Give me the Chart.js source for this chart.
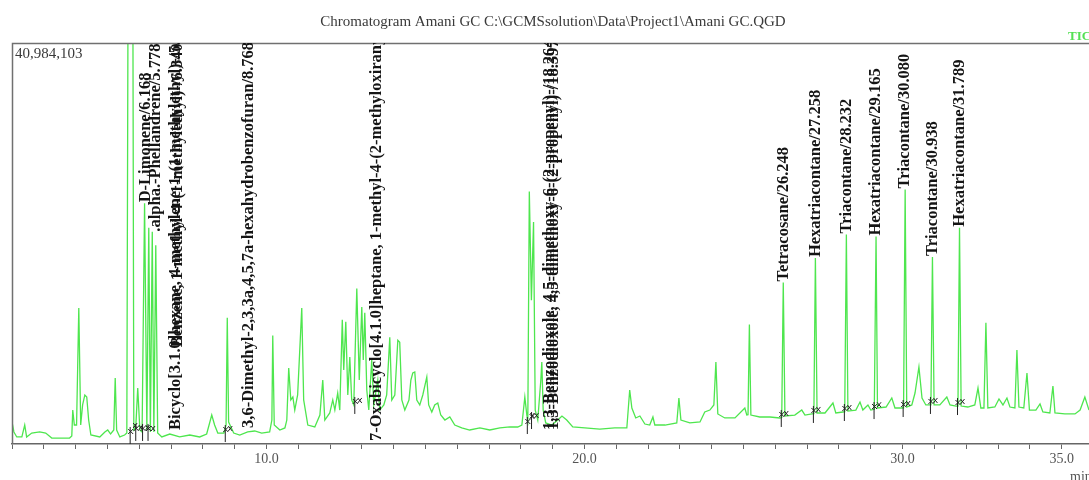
<!DOCTYPE html>
<html>
<head>
<meta charset="utf-8">
<script src="https://cdn.jsdelivr.net/npm/chart.js@4.4.1/dist/chart.umd.min.js"></script>
<style>
html,body{margin:0;padding:0;background:#fff;}
#wrap{position:relative;width:1089px;height:480px;}
</style>
</head>
<body>
<div id="wrap"><canvas id="c"></canvas></div>
<script>
// Retention time (min)
const times = [
2.00,2.06,2.15,2.31,2.40,2.46,2.62,2.87,3.06,3.25,3.81,3.88,3.91,3.96,4.03,4.10,4.16,4.22,4.29,4.35,4.41,4.48,4.76,4.92,5.01,5.10,5.20,5.245,5.29,5.39,
5.54,5.61,5.66,5.79,5.83,5.89,5.953,6.02,6.09,6.168,6.24,6.30,6.35,6.41,6.46,6.52,6.58,6.71,6.96,7.27,7.59,7.90,8.12,8.28,8.37,8.47,8.66,8.73,8.768,8.81,
8.97,9.16,9.41,9.63,9.85,10.10,10.17,10.198,10.245,10.42,10.58,10.64,10.70,10.765,10.83,10.89,10.98,11.11,11.17,11.30,11.52,11.68,11.77,11.835,11.99,12.085,12.15,12.24,12.305,12.384,
12.43,12.494,12.557,12.62,12.68,12.745,12.84,12.918,12.997,13.044,13.091,13.154,13.217,13.31,13.374,13.50,13.56,13.69,13.78,13.877,13.94,14.035,14.13,14.19,14.255,14.35,14.48,14.54,14.60,14.663,
14.726,14.82,14.915,15.041,15.10,15.198,15.29,15.386,15.48,15.61,15.764,15.92,16.14,16.39,16.71,17.02,17.34,17.65,17.90,18.03,18.123,18.186,18.217,18.264,18.33,18.397,18.45,18.53,18.626,18.657,
18.70,18.78,18.97,19.16,19.29,19.44,19.63,20.01,20.48,20.95,21.33,21.42,21.488,21.61,21.74,21.897,22.05,22.15,22.21,22.53,22.90,22.967,23.03,23.31,23.63,23.78,23.94,24.066,24.13,24.19,
24.41,24.73,25.04,25.10,25.14,25.183,25.23,25.51,25.83,26.14,26.20,26.248,26.30,26.61,26.83,26.93,27.15,27.21,27.258,27.31,27.56,27.81,27.90,28.12,28.18,28.232,28.28,28.53,28.66,28.75,
28.91,29.00,29.11,29.165,29.21,29.48,29.66,29.76,29.95,30.03,30.080,30.13,30.29,30.39,30.513,30.61,30.73,30.83,30.89,30.938,30.99,31.17,31.39,31.49,31.68,31.74,31.789,31.84,32.05,32.27,
32.37,32.46,32.557,32.619,32.68,32.90,33.03,33.155,33.28,33.374,33.53,33.594,33.657,33.81,33.91,33.987,34.19,34.32,34.41,34.63,34.726,34.79,35.10,35.42,35.58,35.73,35.86
];
// TIC intensity (millions of counts)
const signal = [
2.25,1.23,0.72,0.72,1.94,0.72,1.12,1.23,1.12,0.61,0.61,0.82,3.47,1.94,1.94,13.9,1.94,3.99,5.01,4.80,2.45,0.92,0.72,1.23,1.43,1.02,1.43,6.75,1.43,0.72,
0.92,1.12,60.0,60.0,1.43,1.64,5.72,1.43,1.23,24.6,1.43,22.1,1.23,21.7,1.23,20.3,1.12,0.72,1.02,0.72,0.92,0.72,1.02,2.96,1.94,1.12,1.12,1.94,12.9,2.25,
1.12,0.92,1.23,1.33,1.12,1.23,2.45,11.1,1.94,1.43,1.64,2.45,7.77,4.50,4.80,3.47,5.01,13.9,4.50,1.94,1.74,2.96,6.54,2.45,3.17,4.50,3.47,5.21,3.47,12.7,
7.56,12.5,5.01,8.89,4.50,3.99,15.9,6.54,14.0,8.58,13.4,5.52,3.47,8.58,3.99,6.54,3.47,3.99,5.01,10.9,4.50,5.01,10.6,10.4,4.50,3.47,4.50,6.54,7.26,7.36,
4.50,3.99,5.01,6.85,3.99,3.27,3.99,4.19,2.96,2.45,2.76,1.94,1.64,1.43,1.64,1.43,1.64,1.74,1.74,1.94,4.80,2.96,2.45,25.8,14.7,22.7,3.47,2.45,6.54,8.38,
3.47,2.15,1.94,2.45,2.86,2.45,1.74,1.64,1.53,1.64,1.64,5.52,3.68,2.66,2.86,2.04,1.94,2.76,1.94,1.94,2.15,4.70,2.45,2.15,2.25,3.27,3.47,3.99,8.38,3.07,
2.66,2.66,3.68,2.96,3.00,12.2,2.96,2.76,2.76,2.66,2.70,16.5,2.86,2.96,3.47,2.96,3.07,3.10,19.0,3.17,3.17,4.19,3.17,3.27,3.30,21.4,3.37,3.47,4.29,3.47,
3.99,3.47,3.55,21.2,3.68,3.78,4.70,3.68,3.68,3.70,26.0,3.78,3.99,5.21,7.87,4.70,3.99,3.99,3.99,19.1,3.99,3.99,4.80,3.99,3.88,3.88,22.1,3.88,3.78,3.99,
5.72,3.68,3.68,12.4,3.68,3.78,4.60,3.99,4.70,3.78,3.68,9.61,3.78,3.68,7.26,3.47,3.47,4.09,3.27,3.17,5.93,3.17,3.07,3.07,3.47,4.80,3.47
];
const tickValues = [10, 20, 30, 35];
const tickLabels = ['10.0', '20.0', '30.0', '35.0'];
const peakNames = [
"Bicyclo[3.1.0]hexane, 4-methylene-1-(1-methylethyl)-/5.953",
"Benzene, 1-methyl-4-(1-methylethyl)-/6.340",
".alpha.-Phellandrene/5.778",
"D-Limonene/6.168",
"3,6-Dimethyl-2,3,3a,4,5,7a-hexahydrobenzofuran/8.768",
"7-Oxabicyclo[4.1.0]heptane, 1-methyl-4-(2-methyloxiranyl)-/12.840",
"1,3-Benzodioxole, 4,5-dimethoxy-6-(2-propenyl)-/18.264",
"1,3-Benzodioxole, 4,5-dimethoxy-6-(2-propenyl)-/18.397",
"Tetracosane/26.248",
"Hexatriacontane/27.258",
"Triacontane/28.232",
"Hexatriacontane/29.165",
"Triacontane/30.080",
"Triacontane/30.938",
"Hexatriacontane/31.789"
];
const peakTimes = [5.953, 6.340, 5.778, 6.168, 8.768, 12.840, 18.264, 18.397, 26.248, 27.258, 28.232, 29.165, 30.080, 30.938, 31.789];
const yMaxCounts = 40984103;
const yMaxLabel = "40,984,103";
const titleText = "Chromatogram Amani GC C:\\GCMSsolution\\Data\\Project1\\Amani GC.QGD";
const xMin = 2.0, xMax = 35.86;

// label placement (pixel offset from peak, and optional bottom level for crowded labels)
const labelLayout = [
  {dx: 38, baseM: 1.43}, {dx: 28, baseM: 9.9}, {dx: 24, baseM: 21.7}, {dx: 1},
  {dx: 21, baseM: 1.64}, {dx: 20, baseM: 0.31}, {dx: 20, baseM: 1.43}, {dx: 20, baseM: 1.43},
  {dx: 0}, {dx: 0}, {dx: 0}, {dx: 0}, {dx: 0}, {dx: 0}, {dx: 0}
];

const pts = times.map((t, i) => ({x: t, y: signal[i]}));

function valueAt(t) {
  for (let i = 0; i < times.length - 1; i++) {
    if (t >= times[i] && t <= times[i + 1]) {
      const f = (t - times[i]) / (times[i + 1] - times[i]);
      return signal[i] + f * (signal[i + 1] - signal[i]);
    }
  }
  return signal[signal.length - 1];
}
function baseAt(t, w) {
  let m = Infinity;
  times.forEach((tt, i) => { if (Math.abs(tt - t) <= w && signal[i] < m) m = signal[i]; });
  return m === Infinity ? valueAt(t) : m;
}
function peakValue(t) {
  let best = 0;
  times.forEach((tt, i) => { if (Math.abs(tt - t) < 0.03 && signal[i] > best) best = signal[i]; });
  return best;
}

const decor = {
  id: 'decor',
  afterDatasetsDraw(chart) {
    const ctx = chart.ctx, a = chart.chartArea, xs = chart.scales.x, ys = chart.scales.y;
    ctx.save();
    // frame
    ctx.strokeStyle = '#707070';
    ctx.lineWidth = 1.5;
    ctx.beginPath();
    ctx.moveTo(a.left + 0.5, a.bottom);
    ctx.lineTo(a.left + 0.5, a.top + 0.5);
    ctx.lineTo(chart.width, a.top + 0.5);
    ctx.stroke();

    // integration marks
    ctx.strokeStyle = '#222';
    ctx.lineWidth = 1;
    peakTimes.forEach((rt) => {
      const px = xs.getPixelForValue(rt);
      const yl = ys.getPixelForValue(baseAt(rt - 0.05, 0.2));
      const yr = ys.getPixelForValue(baseAt(rt + 0.05, 0.2));
      ctx.beginPath();
      ctx.moveTo(px - 2, yl - 8); ctx.lineTo(px - 2, yl + 9);
      ctx.moveTo(px - 4, yl - 6); ctx.lineTo(px + 1, yl - 1);
      ctx.moveTo(px + 1, yl - 6); ctx.lineTo(px - 4, yl - 1);
      ctx.moveTo(px + 1, yr - 7); ctx.lineTo(px + 5, yr - 2);
      ctx.moveTo(px + 5, yr - 7); ctx.lineTo(px + 1, yr - 2);
      ctx.stroke();
    });

    // peak labels
    ctx.beginPath();
    ctx.rect(a.left, a.top, chart.width - a.left, a.bottom - a.top);
    ctx.clip();
    ctx.fillStyle = '#151515';
    ctx.font = 'bold 16.5px "Liberation Serif"';
    ctx.textAlign = 'left';
    ctx.textBaseline = 'middle';
    peakNames.forEach((name, i) => {
      const lay = labelLayout[i];
      const cx = xs.getPixelForValue(peakTimes[i]) + lay.dx;
      const by = lay.baseM !== undefined ? ys.getPixelForValue(lay.baseM) : ys.getPixelForValue(peakValue(peakTimes[i])) - 1;
      ctx.save();
      ctx.translate(cx, by);
      ctx.rotate(-Math.PI / 2);
      ctx.fillText(name, 0, 0);
      ctx.restore();
    });
    ctx.restore();

    // texts
    ctx.save();
    ctx.fillStyle = '#3a3a3a';
    ctx.font = '15px "Liberation Serif"';
    ctx.textAlign = 'center';
    ctx.textBaseline = 'alphabetic';
    ctx.fillText(titleText, 553, 26);
    ctx.textAlign = 'left';
    ctx.font = '15px "Liberation Serif"';
    ctx.textBaseline = 'top';
    ctx.fillText(yMaxLabel, a.left + 3, a.top + 4);
    ctx.fillStyle = '#55e055';
    ctx.font = 'bold 13px "Liberation Serif"';
    ctx.textBaseline = 'alphabetic';
    ctx.fillText('TIC', 1068, 40);
    ctx.fillStyle = '#555';
    ctx.font = '14px "Liberation Serif"';
    ctx.fillText('min', 1070, 481);
    ctx.restore();
  }
};

new Chart(document.getElementById('c'), {
  type: 'line',
  data: {
    datasets: [{
      data: pts,
      borderColor: '#4ee64e',
      borderWidth: 1.3,
      pointRadius: 0,
      tension: 0,
      fill: false
    }]
  },
  options: {
    responsive: true,
    maintainAspectRatio: false,
    animation: false,
    devicePixelRatio: 1,
    layout: {padding: {left: 12, top: 43, right: 0, bottom: 0}},
    plugins: {legend: {display: false}, tooltip: {enabled: false}},
    scales: {
      x: {
        type: 'linear',
        min: xMin,
        max: xMax,
        afterFit: (s) => { s.height = 36; },
        afterBuildTicks: (s) => {
          const t = [];
          for (let v = Math.ceil(xMin); v <= Math.floor(xMax); v++) t.push({value: v});
          s.ticks = t;
        },
        grid: {display: true, drawOnChartArea: false, drawTicks: true, tickLength: 5, color: '#666', lineWidth: 1},
        border: {display: true, color: '#666', width: 1.5},
        ticks: {
          autoSkip: false,
          maxRotation: 0,
          padding: 2,
          color: '#555',
          font: {family: 'Liberation Serif', size: 14},
          callback: (v) => { const i = tickValues.indexOf(Math.round(v)); return i >= 0 ? tickLabels[i] : ''; }
        }
      },
      y: {
        display: false,
        min: 0,
        max: yMaxCounts / 1e6
      }
    }
  },
  plugins: [decor]
});
</script>
</body>
</html>
